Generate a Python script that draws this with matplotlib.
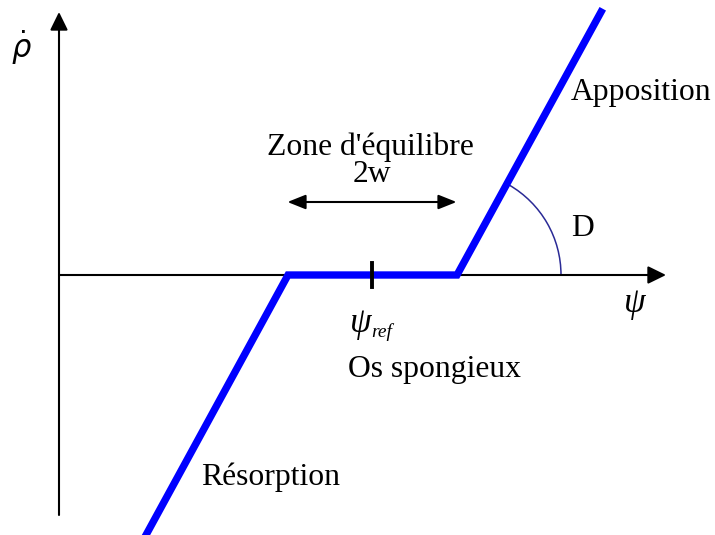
import matplotlib
matplotlib.use("Agg")
import matplotlib.pyplot as plt
from matplotlib.patches import Arc

plt.rcParams['font.family'] = ['Liberation Serif', 'DejaVu Serif']
plt.rcParams['mathtext.fontset'] = 'dejavusans'

# schematic law: bone density rate vs stimulus (units ~ pixels)
psi_curve = [146, 288, 457, 601]
rho_curve = [-260, 0, 0, 263]
psi_ref = 372
w = 84.5
slope_angle = 60  # angle D in degrees
arc_radius = 104

x_axis = (59, 666)
y_axis = (-240, 263)

fig = plt.figure(figsize=(7.15, 5.35), dpi=100)
ax = fig.add_axes([0, 0, 1, 1])
ax.set_xlim(0, 715)
ax.set_ylim(-260, 275)
ax.axis('off')

arrow_style = '-|>,head_length=0.55,head_width=0.27'

# axes
ax.annotate('', xy=(x_axis[1], 0), xytext=(x_axis[0], 0),
            arrowprops=dict(arrowstyle=arrow_style, mutation_scale=20, lw=1.5,
                            color='black', shrinkA=0, shrinkB=0))
ax.annotate('', xy=(x_axis[0], y_axis[1]), xytext=(x_axis[0], y_axis[0]),
            arrowprops=dict(arrowstyle=arrow_style, mutation_scale=20, lw=1.5,
                            color='black', shrinkA=0, shrinkB=0))

# curve
ax.plot(psi_curve, rho_curve, color='#0000ff', lw=5.3, solid_joinstyle='miter', zorder=3)

# reference tick
ax.plot([psi_ref, psi_ref], [-12, 12], color='black', lw=2.8, zorder=4)

# equilibrium zone arrow
ax.annotate('', xy=(psi_ref - w, 73), xytext=(psi_ref + w, 73),
            arrowprops=dict(arrowstyle='<|-|>,head_length=0.55,head_width=0.22',
                            mutation_scale=20, lw=1.5, color='black',
                            shrinkA=0, shrinkB=0))

# angle D
ax.add_patch(Arc((psi_curve[2], 0), 2 * arc_radius, 2 * arc_radius, theta1=0,
                 theta2=slope_angle, color='#2a2a96', lw=1.1))

fs = 22.8
ax.text(22, 227, r'$\dot{\rho}$', fontsize=22, ha='center', va='center')
ax.text(635, -28, 'ψ', fontsize=25, style='italic', ha='center', va='center')
ax.text(370, 120, "Zone d'équilibre", fontsize=fs, ha='center', va='baseline')
ax.text(372, 93, '2w', fontsize=fs, ha='center', va='baseline')
ax.text(571, 175, 'Apposition', fontsize=fs, ha='left', va='baseline')
ax.text(571, 39, 'D', fontsize=fs, ha='left', va='baseline')
ax.text(361, -48, 'ψ', fontsize=25, style='italic', ha='center', va='center')
ax.text(371, -57, 'ref', fontsize=14, style='italic', ha='left', va='center')
ax.text(435, -102, 'Os spongieux', fontsize=fs, ha='center', va='baseline')
ax.text(201, -210, 'Résorption', fontsize=fs, ha='left', va='baseline')

fig.savefig('out.png', dpi=100)
